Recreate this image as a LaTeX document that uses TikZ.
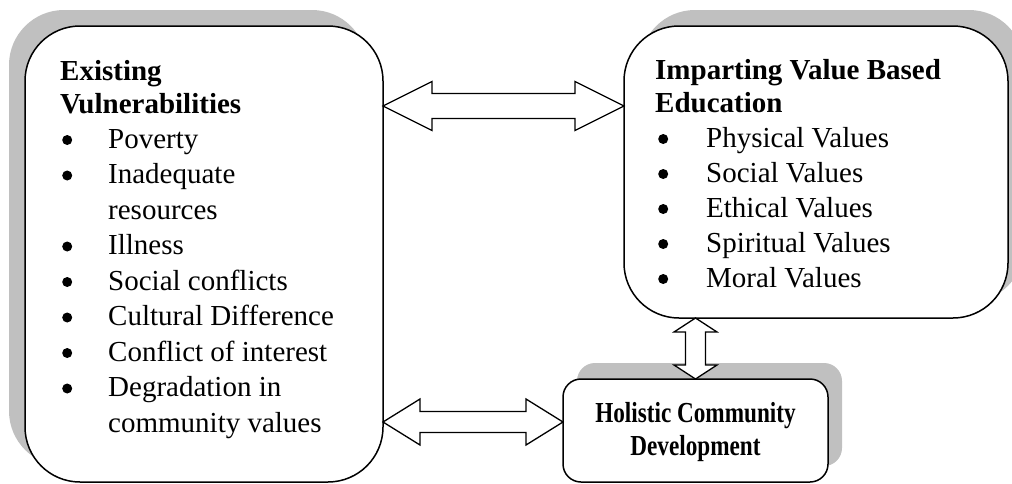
\documentclass[tikz,border=0pt]{standalone}
\usepackage{fontspec}
\usepackage{graphicx}
\setmainfont{Liberation Serif}
\usetikzlibrary{calc}
\definecolor{shadegray}{RGB}{192,192,192}
\newcommand{\bigdot}{\raisebox{3pt}{\tikz\fill[black] (0pt,0pt) circle[radius=5pt];}}
\begin{document}
\begin{tikzpicture}[x=1pt,y=-1pt,
  box/.style={draw=black, line width=1.5pt, fill=white, inner sep=0pt, outer sep=0pt},
  shadebox/.style={fill=shadegray, draw=none, inner sep=0pt, outer sep=0pt},
  txt/.style={anchor=base west, inner sep=0pt, font=\fontsize{29}{35}\selectfont},
  ttl/.style={anchor=base west, inner sep=0pt, font=\fontsize{29}{35}\selectfont\bfseries},
  htxt/.style={anchor=base, inner sep=0pt, font=\fontsize{29}{33}\selectfont\bfseries},
  dbl/.style={draw=black, line width=1.3pt, fill=white, line join=miter}
]
\useasboundingbox (0,0) rectangle (1012,483);

% shadows
\node[shadebox, rounded corners=55pt, minimum width=358pt, minimum height=456pt] (vulsh) at (188,238) {};
\node[shadebox, rounded corners=55pt, minimum width=384pt, minimum height=292pt] (edush) at (832,156) {};
\node[shadebox, rounded corners=18pt, minimum width=265pt, minimum height=103pt] (holsh) at (709.5,414.5) {};

% boxes
\node[box, rounded corners=55pt, minimum width=358pt, minimum height=456pt] (vul) at (204,254) {};
\node[box, rounded corners=55pt, minimum width=384pt, minimum height=292pt] (edu) at (816,172) {};
\node[box, rounded corners=18pt, minimum width=265pt, minimum height=103pt] (hol) at (695.5,430.5) {};

% connector end points
\path (vul.north east) ++(0,80) coordinate (a1s);
\path (edu.north west) ++(0,80) coordinate (a1e);
\path (vul.south east) ++(0,-60) coordinate (a2s);
\path (hol.north west) ++(0,43) coordinate (a2e);
\coordinate (a3s) at (hol.north |- edu.south);
\coordinate (a3e) at (hol.north);

% double arrows
\draw[dbl] (a1s) -- ++(49,-24.5) -- ++(0,12) -- ($(a1e)+(-49,-12.5)$) -- ++(0,-12) -- (a1e)
  -- ++(-49,24.5) -- ++(0,-12) -- ($(a1s)+(49,12.5)$) -- ++(0,12) -- cycle;
\draw[dbl] (a2s) -- ++(37,-23) -- ++(0,12.5) -- ($(a2e)+(-37,-10.5)$) -- ++(0,-12.5) -- (a2e)
  -- ++(-37,23) -- ++(0,-12.5) -- ($(a2s)+(37,10.5)$) -- ++(0,12.5) -- cycle;
\draw[dbl] (a3s) -- ++(-21.5,14) -- ++(11.5,0) -- ($(a3e)+(-10,-14)$) -- ++(-11.5,0) -- (a3e)
  -- ++(21.5,-14) -- ++(-11.5,0) -- ($(a3s)+(10,14)$) -- ++(11.5,0) -- cycle;

% left box text
\node[ttl] (vt1) at (60,80) {Existing};
\node[ttl] (vt2) at (60,113) {Vulnerabilities};
\foreach \t/\b [count=\i] in {Poverty/1, Inadequate/1, resources/0, Illness/1, Social conflicts/1, Cultural Difference/1, Conflict of interest/1, Degradation in/1, community values/0}
  \node[txt] (vl\i) at (60,{148+35.5*(\i-1)}) {\ifnum\b=1 \makebox[48pt][l]{\hspace*{2pt}\bigdot}\else\hspace*{48pt}\fi\t};

% right box text
\node[ttl] (et1) at (655,79) {Imparting Value Based};
\node[ttl] (et2) at (655,112) {Education};
\foreach \t [count=\i] in {Physical Values, Social Values, Ethical Values, Spiritual Values, Moral Values}
  \node[txt] (el\i) at (656,{147+35*(\i-1)}) {\makebox[50pt][l]{\hspace*{2pt}\bigdot}\t};

% bottom box text
\node[htxt] (h1) at (695.5,422) {\scalebox{0.8}[1]{Holistic Community}};
\node[htxt] (h2) at (695.5,455) {\scalebox{0.8}[1]{Development}};
\end{tikzpicture}
\end{document}
